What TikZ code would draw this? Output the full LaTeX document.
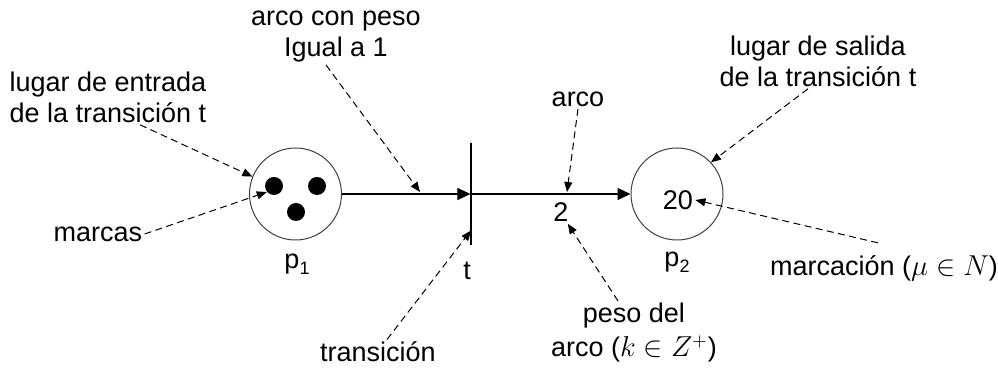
\documentclass[tikz,border=0pt]{standalone}
\usepackage{fontspec}
\setmainfont{Liberation Sans}
\usetikzlibrary{arrows.meta}
\begin{document}
\begin{tikzpicture}[x=0.5pt,y=-0.5pt,
  font=\fontsize{13.5pt}{15.5pt}\selectfont,
  place/.style={circle,draw=black!75,line width=0.5pt,minimum size=46pt,inner sep=0pt},
  token/.style={circle,fill=black,minimum size=9pt,inner sep=0pt},
  bar/.style={draw,line width=0.55pt,minimum width=0pt,minimum height=51pt,inner sep=0pt},
  arc/.style={line width=0.6pt,-{Triangle[length=6.5pt,width=6pt]}},
  pointer/.style={dash pattern=on 3.5pt off 2.2pt,line width=0.5pt,-{Triangle[length=5pt,width=4pt]}},
  lbl/.style={align=center,inner sep=1pt}]
\useasboundingbox (0,0) rectangle (998,378);
% places and transition
\node[place] (p1) at (295.5,194) {};
\node[token] (tk1) at (274,186) {};
\node[token] (tk2) at (317,186) {};
\node[token] (tk3) at (296,212) {};
\node[bar] (t) at (471,194) {};
\node[place] (p2) at (677,194) {};
\node[inner sep=1pt] (m20) at (678,200) {20};
% arcs
\draw[arc] (p1) -- (t);
\draw[arc] (t) -- (p2);
% small labels
\node[inner sep=1pt] (w2) at (561,212) {2};
\node[inner sep=1pt] (lt) at (467,271) {t};
\node[inner sep=1pt] (lp1) at (297,264) {p{\fontsize{9pt}{10pt}\selectfont\raisebox{-3pt}{1}}};
\node[inner sep=1pt] (lp2) at (677,262) {p{\fontsize{9pt}{10pt}\selectfont\raisebox{-3pt}{2}}};
% callout labels
\node[lbl] (Lentrada) at (108,97) {lugar de entrada\\de la transición t};
\node[lbl] (Lpeso1) at (336,37) {arco con peso\\Igual a 1};
\node[lbl] (Lsalida) at (818,61) {lugar de salida\\de la transición t};
\node[lbl] (Larco) at (578,99) {arco};
\node[lbl] (Lmarcas) at (98,234) {marcas};
\node[lbl] (Ltrans) at (378,352) {transición};
\node[lbl] (Lpesodel) at (634,333) {peso del\\[1.5pt]arco ($k\in Z^{+}$)};
\node[lbl] (Lmarcacion) at (884,268) {marcación ($\mu\in N$)};
% free ends on arcs
\coordinate (a1) at (420,192);
\coordinate (a2) at (567,192);
% pointers
\draw[pointer] ([xshift=16pt]Lentrada.south) -- (p1.158);
\draw[pointer] ([xshift=-5pt]Lpeso1.south) -- (a1);
\draw[pointer] (Larco.south) -- (a2);
\draw[pointer] ([xshift=-5pt]Lsalida.south) -- (p2.43);
\draw[pointer] (Lmarcas.east) -- (tk1.220);
\draw[pointer] ([xshift=4.5pt]Ltrans.north) -- ([yshift=7.5pt]t.south);
\draw[pointer] ([xshift=-8pt]Lpesodel.north) -- (w2.-60);
\draw[pointer] ([xshift=-3pt,yshift=5pt]Lmarcacion.north) -- (m20.east);
\end{tikzpicture}
\end{document}
